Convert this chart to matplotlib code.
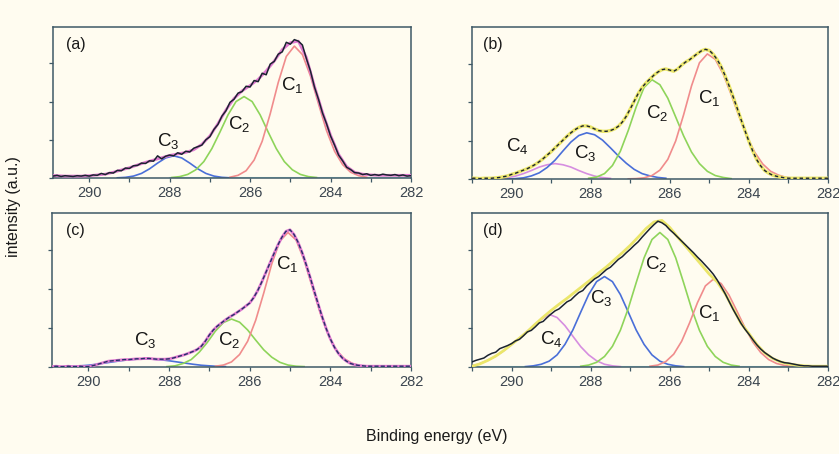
import numpy as np
import matplotlib
matplotlib.use("Agg")
import matplotlib.pyplot as plt
from matplotlib.ticker import MultipleLocator

plt.rcParams['font.family'] = ['Liberation Sans', 'DejaVu Sans']
plt.rcParams['mathtext.fontset'] = 'custom'
plt.rcParams['mathtext.rm'] = 'Liberation Sans'
plt.rcParams['mathtext.it'] = 'Liberation Sans'

# ---------------- data (binding energy grid starts, values in a.u.) ----------------
STEP_RAW = 0.1      # spacing of measured spectra
STEP_FIT = 0.2      # spacing of tabulated fit curves
RAW_START = 291.0

# panel (a)
a_data = [0.10, 0.05, 0.07, 0.04, 0.06, 0.05, 0.04, 0.06, 0.05, 0.07,
          0.05, 0.08, 0.07, 0.12, 0.09, 0.14, 0.13, 0.20, 0.19, 0.26,
          0.25, 0.32, 0.33, 0.39, 0.38, 0.45, 0.44, 0.58, 0.50, 0.57,
          0.60, 0.58, 0.66, 0.62, 0.70, 0.68, 0.78, 0.82, 0.86, 1.00,
          1.08, 1.27, 1.40, 1.62, 1.76, 1.98, 2.06, 2.22, 2.26, 2.40,
          2.38, 2.55, 2.52, 2.74, 2.70, 2.98, 3.05, 3.24, 3.30, 3.55,
          3.50, 3.62, 3.58, 3.48, 3.12, 2.80, 2.38, 2.06, 1.70, 1.42,
          1.10, 0.86, 0.60, 0.45, 0.28, 0.22, 0.14, 0.13, 0.09, 0.11,
          0.07, 0.09, 0.07, 0.10, 0.08, 0.07, 0.09, 0.06, 0.08, 0.05, 0.06]
a_envelope = [0.07, 0.06, 0.05, 0.05, 0.05, 0.06, 0.08, 0.10, 0.15, 0.21,
              0.27, 0.34, 0.41, 0.47, 0.53, 0.59, 0.63, 0.67, 0.74, 0.88,
              1.10, 1.42, 1.78, 2.08, 2.28, 2.42, 2.58, 2.80, 3.06, 3.36,
              3.54, 3.58, 3.15, 2.40, 1.72, 1.12, 0.62, 0.30, 0.15, 0.10,
              0.08, 0.07, 0.07, 0.07, 0.07, 0.07]
a_c1_start, a_c1 = 286.5, [0.02, 0.07, 0.19, 0.47, 0.96, 1.68, 2.50, 3.18, 3.45,
                           3.23, 2.67, 1.94, 1.24, 0.70, 0.35, 0.15, 0.06, 0.02]
a_c2_start, a_c2 = 287.95, [0.013, 0.036, 0.094, 0.215, 0.43, 0.77, 1.20, 1.65, 2.00,
                            2.13, 2.00, 1.65, 1.20, 0.77, 0.43, 0.215, 0.094, 0.036, 0.013]
a_c3_start, a_c3 = 289.3, [0.005, 0.017, 0.05, 0.12, 0.24, 0.39, 0.525, 0.58,
                           0.525, 0.39, 0.24, 0.12, 0.05, 0.017, 0.005]
a_base_x, a_base = [288.0, 282.0], [0.01, 0.01]

# panel (b)
b_data = [0.02, 0.02, 0.01, 0.02, 0.02, 0.02, 0.03, 0.04, 0.06, 0.08,
          0.12, 0.15, 0.19, 0.23, 0.27, 0.32, 0.38, 0.45, 0.53, 0.62,
          0.71, 0.81, 0.91, 1.01, 1.11, 1.20, 1.28, 1.34, 1.38, 1.38,
          1.35, 1.30, 1.26, 1.24, 1.24, 1.26, 1.30, 1.37, 1.48, 1.63,
          1.82, 2.02, 2.22, 2.38, 2.50, 2.60, 2.70, 2.78, 2.84, 2.86,
          2.83, 2.80, 2.86, 2.96, 3.04, 3.10, 3.18, 3.26, 3.33, 3.37,
          3.34, 3.24, 3.10, 2.92, 2.68, 2.42, 2.14, 1.85, 1.55, 1.26,
          0.98, 0.72, 0.50, 0.34, 0.22, 0.15, 0.10, 0.07, 0.05, 0.03,
          0.02, 0.02, 0.02, 0.02, 0.02, 0.02, 0.02, 0.02, 0.02, 0.02, 0.02]
b_c1_start, b_c1 = 287.05, [0.004, 0.01, 0.03, 0.09, 0.23, 0.51, 0.99, 1.67, 2.42, 3.02, 3.25,
                            3.11, 2.73, 2.20, 1.63, 1.10, 0.69, 0.39, 0.20, 0.10, 0.04, 0.02]
b_c2_start, b_c2 = 288.05, [0.02, 0.05, 0.14, 0.35, 0.72, 1.26, 1.87, 2.38, 2.58,
                            2.45, 2.10, 1.61, 1.12, 0.70, 0.40, 0.20, 0.09, 0.04, 0.01]
b_c3_start, b_c3 = 290.1, [0.00, 0.01, 0.03, 0.08, 0.16, 0.30, 0.49, 0.73, 0.96, 1.13, 1.20,
                           1.15, 1.01, 0.81, 0.60, 0.41, 0.25, 0.14, 0.08, 0.04, 0.02]
b_c4_start, b_c4 = 290.3, [0.016, 0.037, 0.076, 0.14, 0.22, 0.31, 0.37, 0.40,
                           0.37, 0.31, 0.22, 0.14, 0.076, 0.037, 0.016]

# panel (c)
c_data = [0.01, 0.01, 0.02, 0.01, 0.01, 0.02, 0.01, 0.01, 0.02, 0.01, 0.01,
          0.03, 0.06, 0.09, 0.12, 0.15, 0.16, 0.17, 0.18, 0.19, 0.19,
          0.20, 0.21, 0.21, 0.22, 0.22, 0.21, 0.20, 0.20, 0.20, 0.21,
          0.23, 0.26, 0.29, 0.32, 0.36, 0.40, 0.45, 0.53, 0.66, 0.82,
          0.95, 1.05, 1.13, 1.21, 1.28, 1.34, 1.41, 1.48, 1.56, 1.64,
          1.78, 1.96, 2.18, 2.42, 2.66, 2.90, 3.13, 3.33, 3.48, 3.52,
          3.40, 3.20, 2.94, 2.63, 2.30, 1.95, 1.61, 1.28, 0.98, 0.72,
          0.51, 0.35, 0.23, 0.15, 0.09, 0.06, 0.04, 0.03, 0.02, 0.02,
          0.02, 0.02, 0.02, 0.02, 0.02, 0.02, 0.02, 0.02, 0.02, 0.02]
c_c1_start, c_c1 = 286.85, [0.02, 0.05, 0.13, 0.32, 0.66, 1.20, 1.90, 2.65, 3.23, 3.45,
                            3.26, 2.74, 2.06, 1.38, 0.82, 0.43, 0.21, 0.09, 0.03, 0.01]
c_c2_start, c_c2 = 288.05, [0.01, 0.03, 0.09, 0.19, 0.38, 0.63, 0.92, 1.14, 1.23,
                            1.15, 0.95, 0.69, 0.44, 0.25, 0.12, 0.05, 0.02, 0.01]
c_c3_start, c_c3 = 290.6, [0.01, 0.017, 0.03, 0.045, 0.07, 0.10, 0.13, 0.16, 0.185, 0.20, 0.21,
                           0.20, 0.185, 0.16, 0.13, 0.10, 0.07, 0.045, 0.03, 0.017, 0.01]

# panel (d)
d_data = [0.13, 0.17, 0.20, 0.23, 0.30, 0.35, 0.38, 0.47, 0.51, 0.55,
          0.60, 0.67, 0.71, 0.80, 0.90, 0.94, 1.03, 1.13, 1.17, 1.27,
          1.36, 1.44, 1.49, 1.58, 1.67, 1.72, 1.82, 1.91, 1.96, 2.08,
          2.17, 2.26, 2.32, 2.41, 2.50, 2.56, 2.66, 2.76, 2.83, 2.93,
          3.02, 3.12, 3.21, 3.33, 3.44, 3.55, 3.65, 3.74, 3.70, 3.63,
          3.52, 3.43, 3.33, 3.23, 3.13, 3.03, 2.93, 2.82, 2.72, 2.61,
          2.50, 2.38, 2.23, 2.06, 1.88, 1.68, 1.48, 1.30, 1.12, 0.97,
          0.84, 0.70, 0.57, 0.46, 0.37, 0.30, 0.23, 0.18, 0.14, 0.11,
          0.10, 0.08, 0.06, 0.04, 0.03, 0.03, 0.02, 0.02, 0.02, 0.02, 0.02]
d_envelope = [0.02, 0.08, 0.17, 0.28, 0.42, 0.58, 0.74, 0.91, 1.10, 1.28,
              1.45, 1.61, 1.76, 1.92, 2.08, 2.24, 2.41, 2.57, 2.75, 2.93,
              3.12, 3.33, 3.55, 3.72, 3.76, 3.58, 3.33, 3.10, 2.86, 2.62,
              2.38, 2.18, 1.88, 1.50, 1.12, 0.86, 0.58, 0.36, 0.22, 0.13,
              0.08, 0.05, 0.03, 0.02, 0.02, 0.02]
d_c1_start, d_c1 = 286.5, [0.02, 0.05, 0.14, 0.33, 0.66, 1.13, 1.65, 2.08, 2.25,
                           2.14, 1.84, 1.43, 1.01, 0.64, 0.37, 0.19, 0.09, 0.04, 0.01]
d_c2_start, d_c2 = 288.25, [0.02, 0.05, 0.12, 0.27, 0.53, 0.94, 1.50, 2.16, 2.80, 3.27, 3.45,
                            3.27, 2.80, 2.16, 1.50, 0.94, 0.53, 0.27, 0.12, 0.05, 0.02]
d_c3_start, d_c3 = 289.65, [0.01, 0.03, 0.07, 0.15, 0.31, 0.58, 0.95, 1.41, 1.86, 2.19, 2.32,
                            2.19, 1.86, 1.41, 0.95, 0.58, 0.31, 0.15, 0.07, 0.03, 0.01]
d_c4_start, d_c4 = 291.05, [0.02, 0.07, 0.15, 0.25, 0.38, 0.53, 0.70, 0.87, 1.05, 1.22, 1.35,
                            1.27, 1.06, 0.79, 0.52, 0.31, 0.16, 0.07, 0.03, 0.01]
d_base_x, d_base = [291.0, 282.0], [0.01, 0.01]

x_ticks = [290, 288, 286, 284, 282]
panel_names = ['(a)', '(b)', '(c)', '(d)']
# peak labels: (name, energy, intensity)
a_labels = [('1', 284.95, 2.42), ('2', 286.26, 1.41), ('3', 288.04, 0.96)]
b_labels = [('1', 284.99, 2.10), ('2', 286.33, 1.72), ('3', 288.15, 0.67), ('4', 289.85, 0.85)]
c_labels = [('1', 285.08, 2.64), ('2', 286.50, 0.68), ('3', 288.58, 0.68)]
d_labels = [('1', 285.00, 1.38), ('2', 286.34, 2.64), ('3', 287.73, 1.78), ('4', 288.99, 0.73)]

# ---------------- styling ----------------
BG = '#fffcf0'
SPINE = '#3f5966'
TICKLBL = '#3c4650'
COL = {'c1': '#f08c8c', 'c2': '#8ed45a', 'c3': '#4a6fd8', 'c4': '#d68ee0',
       'base': '#a8e2e6', 'env_pink': '#e07ad0', 'env_yel': '#ebe66a', 'data': '#1b2330'}

W, H = 839, 454
fig = plt.figure(figsize=(W / 100, H / 100), dpi=100, facecolor=BG)


def ax_rect(l, t, r, b):
    return [l / W, 1 - b / H, (r - l) / W, (b - t) / H]


rects = [ax_rect(53, 27, 411, 178), ax_rect(472, 27, 828, 179),
         ax_rect(52, 213, 411, 367), ax_rect(472, 213, 828, 367)]
xlims = [(290.9, 282), (291.0, 282), (290.9, 282), (291.0, 282)]


def raw_x(vals):
    return RAW_START - STEP_RAW * np.arange(len(vals))


def fit_x(start, vals):
    return start - STEP_FIT * np.arange(len(vals))


axes = []
for i in range(4):
    ax = fig.add_axes(rects[i])
    ax.set_facecolor(BG)
    ax.set_xlim(*xlims[i])
    ax.set_ylim(0, 3.95)
    ax.set_xticks(x_ticks)
    ax.xaxis.set_minor_locator(MultipleLocator(1))
    ax.set_yticks([0, 1, 2, 3])
    ax.set_yticklabels([])
    ax.tick_params(axis='both', which='both', direction='out', length=3,
                   width=0.9, color=SPINE, labelsize=10.5, labelcolor=TICKLBL, pad=3)
    for s in ax.spines.values():
        s.set_color(SPINE)
        s.set_linewidth(1.1)
    ax.text(0.065 if i % 2 == 0 else 0.058, 0.885, panel_names[i], transform=ax.transAxes,
            ha='center', va='center', fontsize=11.5, color='#1a1a1a')
    axes.append(ax)

lw_c = 1.2


def draw_labels(ax, labels):
    for sub, e, v in labels:
        ax.text(e, v, r'$\mathrm{C}_{%s}$' % sub, ha='center', va='center',
                fontsize=13.5, color='#151515')


# (a)
ax = axes[0]
ax.plot(a_base_x, a_base, color=COL['base'], lw=1.5, zorder=1)
ax.plot(fit_x(a_c3_start, a_c3), a_c3, color=COL['c3'], lw=lw_c, zorder=2)
ax.plot(fit_x(a_c2_start, a_c2), a_c2, color=COL['c2'], lw=lw_c, zorder=2)
ax.plot(fit_x(a_c1_start, a_c1), a_c1, color=COL['c1'], lw=lw_c, zorder=2)
ax.plot(fit_x(RAW_START, a_envelope), a_envelope, color=COL['env_pink'], lw=2.0, zorder=3)
ax.plot(raw_x(a_data), a_data, color=COL['data'], lw=1.1, zorder=4)
draw_labels(ax, a_labels)

# (b)
ax = axes[1]
ax.plot(fit_x(b_c4_start, b_c4), b_c4, color=COL['c4'], lw=lw_c, zorder=2)
ax.plot(fit_x(b_c3_start, b_c3), b_c3, color=COL['c3'], lw=lw_c, zorder=2)
ax.plot(fit_x(b_c2_start, b_c2), b_c2, color=COL['c2'], lw=lw_c, zorder=2)
ax.plot(fit_x(b_c1_start, b_c1), b_c1, color=COL['c1'], lw=lw_c, zorder=2)
ax.plot(raw_x(b_data), b_data, color=COL['env_yel'], lw=2.4, zorder=3)
ax.plot(raw_x(b_data), b_data, color=COL['data'], lw=1.0, ls=(0, (2.5, 2.0)), zorder=4)
draw_labels(ax, b_labels)

# (c)
ax = axes[2]
ax.plot(fit_x(c_c3_start, c_c3), c_c3, color=COL['c3'], lw=lw_c, zorder=2)
ax.plot(fit_x(c_c2_start, c_c2), c_c2, color=COL['c2'], lw=lw_c, zorder=2)
ax.plot(fit_x(c_c1_start, c_c1), c_c1, color=COL['c1'], lw=lw_c, zorder=2)
ax.plot(raw_x(c_data), c_data, color=COL['env_pink'], lw=2.0, zorder=3)
ax.plot(raw_x(c_data), c_data, color='#25306a', lw=1.0, ls=(0, (3, 1.5)), zorder=4)
draw_labels(ax, c_labels)

# (d)
ax = axes[3]
ax.plot(d_base_x, d_base, color=COL['base'], lw=1.5, zorder=1)
ax.plot(fit_x(d_c4_start, d_c4), d_c4, color=COL['c4'], lw=lw_c, zorder=2)
ax.plot(fit_x(d_c3_start, d_c3), d_c3, color=COL['c3'], lw=lw_c, zorder=2)
ax.plot(fit_x(d_c2_start, d_c2), d_c2, color=COL['c2'], lw=lw_c, zorder=2)
ax.plot(fit_x(d_c1_start, d_c1), d_c1, color=COL['c1'], lw=lw_c, zorder=2)
ax.plot(fit_x(RAW_START, d_envelope), d_envelope, color=COL['env_yel'], lw=2.0, zorder=3)
ax.plot(raw_x(d_data), d_data, color=COL['data'], lw=1.1, zorder=4)
draw_labels(ax, d_labels)

fig.text(14 / W, 1 - 207 / H, 'intensity (a.u.)', rotation=90, ha='center', va='center',
         fontsize=11.5, color='#1a1a1a')
fig.text(437 / W, 1 - 437 / H, 'Binding energy (eV)', ha='center', va='center',
         fontsize=11.5, color='#1a1a1a')

fig.savefig('out.png', dpi=100, facecolor=BG)
